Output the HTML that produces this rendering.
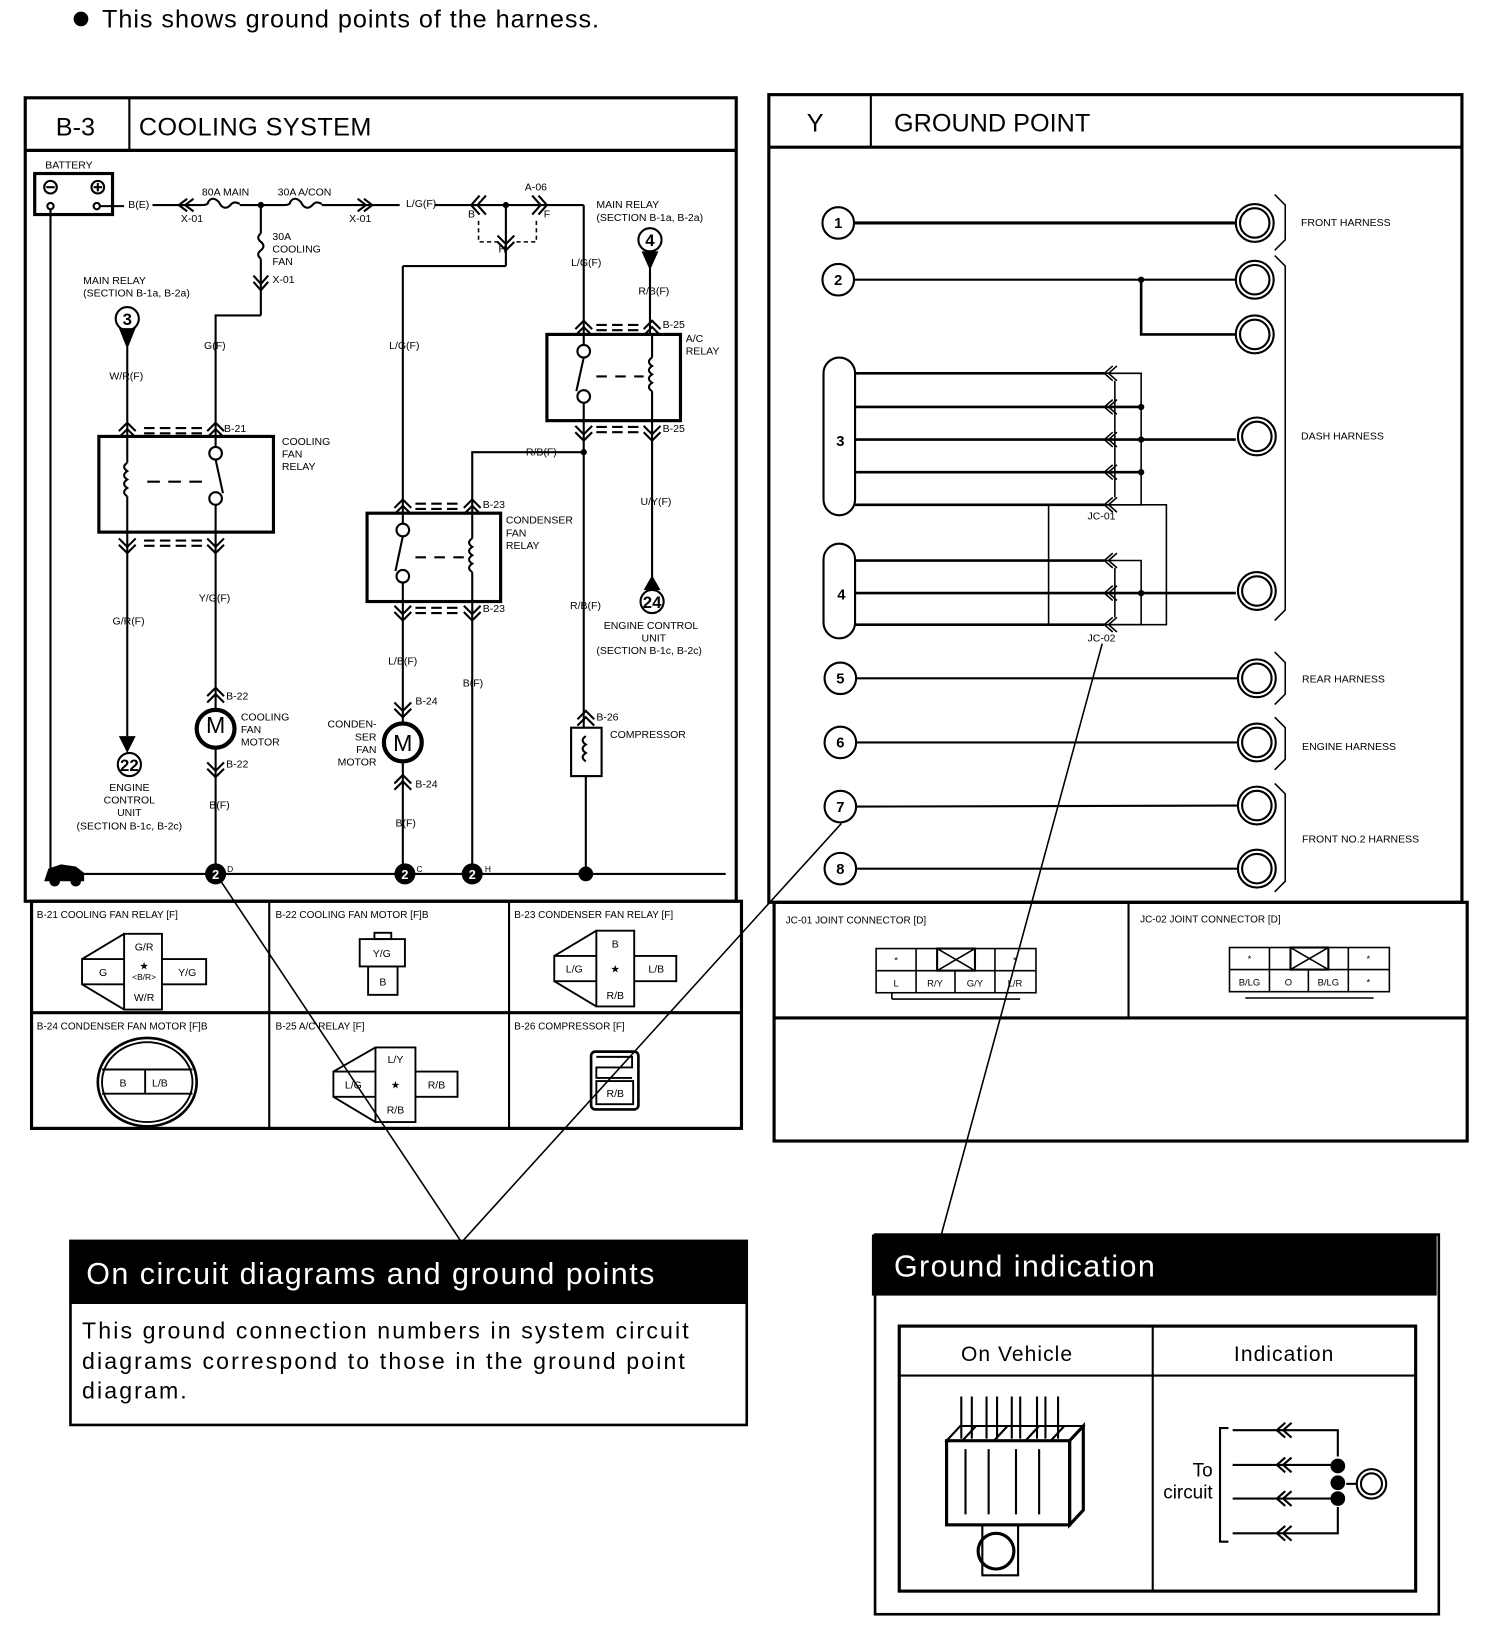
<!DOCTYPE html>
<html><head><meta charset="utf-8"><style>html,body{margin:0;padding:0;background:#fff}svg{display:block}</style></head>
<body>
<svg width="1504" height="1650" viewBox="0 0 1430 1569" preserveAspectRatio="none" xmlns="http://www.w3.org/2000/svg" font-family="Liberation Sans, Arial, sans-serif">
<rect width="1430" height="1569" fill="#fff"/>
<circle cx="77" cy="18" r="7" fill="#000"/>
<text x="97" y="26" font-size="24" letter-spacing="0.9">This shows ground points of the harness.</text>

<!-- LEFT PANEL -->
<g fill="none" stroke="#000">
<rect x="24" y="93" width="676" height="764" stroke-width="3"/>
<line x1="24" y1="143" x2="700" y2="143" stroke-width="3"/>
<line x1="123" y1="93" x2="123" y2="143" stroke-width="2"/>
<rect x="30" y="857" width="675" height="216" stroke-width="3"/>
<line x1="30" y1="963" x2="705" y2="963" stroke-width="3"/>
<line x1="256" y1="857" x2="256" y2="1073" stroke-width="2"/>
<line x1="484" y1="857" x2="484" y2="1073" stroke-width="2"/>
</g>
<text x="53" y="129" font-size="24">B-3</text>
<text x="132" y="129" font-size="24" letter-spacing="0.4">COOLING SYSTEM</text>

<g font-size="10" fill="#000">
<text x="43" y="160">BATTERY</text>
<text x="122" y="198">B(E)</text>
<text x="172" y="211">X-01</text>
<text x="192" y="186">80A MAIN</text>
<text x="264" y="186">30A A/CON</text>
<text x="332" y="211">X-01</text>
<text x="386" y="197">L/G(F)</text>
<text x="499" y="181">A-06</text>
<text x="445" y="207">B</text><text x="517" y="207">F</text><text x="474" y="240">H</text>
<text x="567" y="198">MAIN RELAY</text><text x="567" y="210">(SECTION B-1a, B-2a)</text>
<text x="543" y="253">L/G(F)</text>
<text x="607" y="280">R/B(F)</text>
<text x="259" y="228">30A</text><text x="259" y="240">COOLING</text><text x="259" y="252">FAN</text>
<text x="259" y="269">X-01</text>
<text x="79" y="270">MAIN RELAY</text><text x="79" y="282">(SECTION B-1a, B-2a)</text>
<text x="194" y="332">G(F)</text>
<text x="370" y="332">L/G(F)</text>
<text x="104" y="361">W/R(F)</text>
<text x="213" y="411">B-21</text>
<text x="268" y="423">COOLING</text><text x="268" y="435">FAN</text><text x="268" y="447">RELAY</text>
<text x="630" y="312">B-25</text><text x="630" y="411">B-25</text>
<text x="652" y="325">A/C</text><text x="652" y="337">RELAY</text>
<text x="500" y="433">R/B(F)</text>
<text x="609" y="480">U/Y(F)</text>
<text x="459" y="483">B-23</text><text x="459" y="582">B-23</text>
<text x="481" y="498">CONDENSER</text><text x="481" y="510">FAN</text><text x="481" y="522">RELAY</text>
<text x="189" y="572">Y/G(F)</text>
<text x="107" y="594">G/R(F)</text>
<text x="542" y="579">R/B(F)</text>
<text x="574" y="598">ENGINE CONTROL</text><text x="610" y="610">UNIT</text><text x="567" y="622">(SECTION B-1c, B-2c)</text>
<text x="369" y="632">L/B(F)</text>
<text x="440" y="653">B(F)</text>
<text x="215" y="665">B-22</text><text x="215" y="730">B-22</text>
<text x="229" y="685">COOLING</text><text x="229" y="697">FAN</text><text x="229" y="709">MOTOR</text>
<text x="395" y="670">B-24</text><text x="395" y="749">B-24</text>
<text x="358" y="692" text-anchor="end">CONDEN-</text><text x="358" y="704" text-anchor="end">SER</text><text x="358" y="716" text-anchor="end">FAN</text><text x="358" y="728" text-anchor="end">MOTOR</text>
<text x="567" y="685">B-26</text>
<text x="580" y="702">COMPRESSOR</text>
<text x="123" y="752" text-anchor="middle">ENGINE</text><text x="123" y="764" text-anchor="middle">CONTROL</text><text x="123" y="776" text-anchor="middle">UNIT</text><text x="123" y="789" text-anchor="middle">(SECTION B-1c, B-2c)</text>
<text x="199" y="769">B(F)</text>
<text x="376" y="786">B(F)</text>
<text x="216" y="829" font-size="8">D</text><text x="396" y="829" font-size="8">C</text><text x="461" y="829" font-size="8">H</text>
</g>

<g fill="none" stroke="#000" stroke-width="2">
<rect x="33" y="165" width="74" height="39" stroke-width="3"/>
<circle cx="48" cy="178" r="6"/><line x1="44" y1="178" x2="52" y2="178"/>
<circle cx="93" cy="178" r="6"/><line x1="89" y1="178" x2="97" y2="178"/><line x1="93" y1="174" x2="93" y2="182"/>
<circle cx="48" cy="196" r="3"/><circle cx="92" cy="196" r="3"/>
<line x1="48" y1="199" x2="48" y2="831"/>
<line x1="95" y1="196" x2="118" y2="196"/>
<line x1="145" y1="195" x2="192" y2="195"/>
<path d="M178 189 l-8 6 l8 6 M184 189 l-8 6 l8 6"/>
<path d="M192 195 q6 0 6 -3 q4 -6 10 0 q5 10 12 2 q3 -3 8 0 M228 195 L270 195"/>
<path d="M270 195 q6 0 6 -3 q4 -6 10 0 q5 10 12 2 q3 -3 8 0 M306 195 L380 195"/>
<path d="M340 189 l8 6 l-8 6 M346 189 l8 6 l-8 6"/>
<line x1="413" y1="195" x2="555" y2="195"/>
<path d="M456 186 l-8 9 l8 9 M462 186 l-8 9 l8 9 M506 186 l8 9 l-8 9 M512 186 l8 9 l-8 9"/>
<line x1="481" y1="195" x2="481" y2="253"/>
<path d="M455 210 v20 h20 M510 210 v20 h-20" stroke-dasharray="4 3" stroke-width="1.5"/>
<path d="M473 224 l8 8 l8 -8 M473 230 l8 8 l8 -8"/>
<line x1="481" y1="253" x2="383" y2="253"/>
<line x1="383" y1="253" x2="383" y2="488"/>
<line x1="555" y1="195" x2="555" y2="318"/>
<line x1="248" y1="195" x2="248" y2="222"/>
<path d="M248 222 q-5 4 0 8 q5 4 0 8 q-5 4 0 8"/>
<line x1="248" y1="246" x2="248" y2="300"/>
<path d="M241 262 l7 8 l7 -8 M241 268 l7 8 l7 -8"/>
<polyline points="248,300 205,300 205,415"/>
<circle cx="121" cy="303" r="11"/>
<line x1="121" y1="330" x2="121" y2="415"/>
<rect x="94" y="415" width="166" height="91" stroke-width="3"/>
<path d="M113 410 l8 -8 l8 8 M113 416 l8 -8 l8 8 M197 410 l8 -8 l8 8 M197 416 l8 -8 l8 8"/>
<path d="M137 407 h56 M137 412 h56 M137 514 h56 M137 519 h56" stroke-dasharray="10 5" stroke-width="2"/>
<path d="M113 512 l8 8 l8 -8 M113 518 l8 8 l8 -8 M197 512 l8 8 l8 -8 M197 518 l8 8 l8 -8"/>
<line x1="121" y1="415" x2="121" y2="440"/><path d="M121 440 q-6 4 0 8 q-6 4 0 8 q-6 4 0 8 q-6 4 0 8"/><line x1="121" y1="472" x2="121" y2="506"/>
<line x1="205" y1="415" x2="205" y2="425"/><circle cx="205" cy="431" r="6"/><line x1="205" y1="437" x2="212" y2="469"/><circle cx="205" cy="474" r="6"/><line x1="205" y1="480" x2="205" y2="506"/>
<line x1="140" y1="458" x2="200" y2="458" stroke-dasharray="12 8"/>
<line x1="121" y1="506" x2="121" y2="700"/>
<line x1="205" y1="506" x2="205" y2="675"/>
<circle cx="205" cy="693" r="18" stroke-width="4"/>
<line x1="205" y1="711" x2="205" y2="831"/>
<path d="M197 662 l8 -8 l8 8 M197 668 l8 -8 l8 8 M197 725 l8 8 l8 -8 M197 731 l8 8 l8 -8"/>
<circle cx="123" cy="727" r="11"/>
<rect x="349" y="488" width="127" height="84" stroke-width="3"/>
<path d="M375 483 l8 -8 l8 8 M375 489 l8 -8 l8 8 M441 483 l8 -8 l8 8 M441 489 l8 -8 l8 8"/>
<path d="M395 479 h42 M395 484 h42 M395 578 h42 M395 583 h42" stroke-dasharray="10 5"/>
<path d="M375 576 l8 8 l8 -8 M375 582 l8 8 l8 -8 M441 576 l8 8 l8 -8 M441 582 l8 8 l8 -8"/>
<line x1="383" y1="488" x2="383" y2="498"/><circle cx="383" cy="504" r="6"/><line x1="383" y1="510" x2="376" y2="543"/><circle cx="383" cy="548" r="6"/><line x1="383" y1="554" x2="383" y2="572"/>
<line x1="449" y1="488" x2="449" y2="512"/><path d="M449 512 q-6 4 0 8 q-6 4 0 8 q-6 4 0 8 q-6 4 0 8"/><line x1="449" y1="544" x2="449" y2="572"/>
<line x1="395" y1="530" x2="445" y2="530" stroke-dasharray="10 8"/>
<line x1="383" y1="572" x2="383" y2="688"/>
<circle cx="383" cy="706" r="18" stroke-width="4"/>
<line x1="383" y1="724" x2="383" y2="831"/>
<path d="M375 668 l8 8 l8 -8 M375 674 l8 8 l8 -8 M375 745 l8 -8 l8 8 M375 751 l8 -8 l8 8"/>
<polyline points="555,430 449,430 449,488"/>
<line x1="449" y1="572" x2="449" y2="831"/>
<rect x="520" y="318" width="127" height="82" stroke-width="3"/>
<path d="M547 313 l8 -8 l8 8 M547 319 l8 -8 l8 8 M612 313 l8 -8 l8 8 M612 319 l8 -8 l8 8"/>
<path d="M567 309 h42 M567 314 h42 M567 406 h42 M567 411 h42" stroke-dasharray="10 5"/>
<path d="M547 405 l8 8 l8 -8 M547 411 l8 8 l8 -8 M612 405 l8 8 l8 -8 M612 411 l8 8 l8 -8"/>
<line x1="555" y1="318" x2="555" y2="328"/><circle cx="555" cy="334" r="6"/><line x1="555" y1="340" x2="548" y2="372"/><circle cx="555" cy="377" r="6"/><line x1="555" y1="383" x2="555" y2="400"/>
<line x1="620" y1="318" x2="620" y2="340"/><path d="M620 340 q-6 4 0 8 q-6 4 0 8 q-6 4 0 8 q-6 4 0 8"/><line x1="620" y1="372" x2="620" y2="400"/>
<line x1="567" y1="358" x2="612" y2="358" stroke-dasharray="10 8"/>
<circle cx="618" cy="228" r="11"/>
<line x1="618" y1="250" x2="618" y2="318"/>
<line x1="555" y1="400" x2="555" y2="692"/>
<line x1="620" y1="400" x2="620" y2="550"/>
<circle cx="620" cy="572" r="11"/>
<rect x="543" y="692" width="29" height="46"/>
<path d="M557 700 q-6 4 0 8 q-6 4 0 8 q-6 4 0 8"/>
<path d="M549 684 l8 -8 l8 8 M549 690 l8 -8 l8 8"/>
<line x1="557" y1="738" x2="557" y2="831"/>
<line x1="48" y1="831" x2="690" y2="831"/>
</g>
<g fill="#000">
<circle cx="248" cy="195" r="3"/><circle cx="481" cy="195" r="3"/><circle cx="555" cy="430" r="3"/>
<path d="M113 312 L129 312 L121 332 Z"/>
<path d="M610 239 L626 239 L618 257 Z"/>
<path d="M113 700 L129 700 L121 716 Z"/>
<path d="M612 561 L628 561 L620 547 Z"/>
<circle cx="205" cy="831" r="10"/><circle cx="385" cy="831" r="10"/><circle cx="449" cy="831" r="10"/><circle cx="557" cy="831" r="7"/>
<path d="M42 838 L46 826 L58 822 L72 824 L80 830 L80 838 Z"/><circle cx="52" cy="838" r="5"/><circle cx="72" cy="838" r="5"/>
</g>
<g font-size="16" font-weight="bold" text-anchor="middle" fill="#000">
<text x="121" y="309">3</text><text x="618" y="234">4</text><text x="123" y="733">22</text><text x="620" y="578">24</text>
<text x="205" y="697" font-size="22" font-weight="normal">M</text><text x="383" y="714" font-size="22" font-weight="normal">M</text>
</g>
<g font-size="12" font-weight="bold" text-anchor="middle" fill="#fff"><text x="205" y="836">2</text><text x="385" y="836">2</text><text x="449" y="836">2</text></g>

<g font-size="9.5" fill="#000">
<text x="35" y="873">B-21 COOLING FAN RELAY [F]</text>
<text x="262" y="873">B-22 COOLING FAN MOTOR [F]B</text>
<text x="489" y="873">B-23 CONDENSER FAN RELAY [F]</text>
<text x="35" y="979">B-24 CONDENSER FAN MOTOR [F]B</text>
<text x="262" y="979">B-25 A/C RELAY [F]</text>
<text x="489" y="979">B-26 COMPRESSOR [F]</text>
</g>
<g fill="none" stroke="#000" stroke-width="1.8">
<path d="M118 888 h36 v24 h42 v24 h-42 v24 h-36 v-24 h-40 v-24 h40 z M118 912 v24 M154 912 v24 M78 912 L118 888 M78 936 L118 960"/>
<rect x="342" y="893" width="43" height="26"/><rect x="350" y="919" width="28" height="27"/><rect x="356" y="887" width="16" height="6"/>
<path d="M567 885 h36 v24 h40 v24 h-40 v24 h-36 v-24 h-40 v-24 h40 z M567 909 v24 M603 909 v24 M527 909 L567 885 M527 933 L567 957"/>
<ellipse cx="140" cy="1029" rx="47" ry="42" stroke-width="2.5"/><ellipse cx="140" cy="1029" rx="43" ry="38"/>
<line x1="97" y1="1017" x2="183" y2="1017"/><line x1="97" y1="1040" x2="183" y2="1040"/><line x1="138" y1="1017" x2="138" y2="1040"/>
<path d="M357 996 h38 v23 h40 v24 h-40 v24 h-38 v-24 h-40 v-24 h40 z M357 1019 v24 M395 1019 v24 M317 1019 L357 996 M317 1043 L357 1067"/>
<rect x="562" y="1000" width="45" height="55" rx="4" stroke-width="2.5"/><path d="M567 1005 h34 v10 h-34 v10 h34" /><rect x="567" y="1028" width="35" height="22"/>
</g>
<g font-size="10" text-anchor="middle" fill="#000">
<text x="137" y="904">G/R</text><text x="98" y="928">G</text><text x="137" y="922">★</text><text x="137" y="932" font-size="8">&lt;B/R&gt;</text><text x="178" y="928">Y/G</text><text x="137" y="952">W/R</text>
<text x="363" y="910">Y/G</text><text x="364" y="937">B</text>
<text x="585" y="901">B</text><text x="546" y="925">L/G</text><text x="585" y="925">★</text><text x="624" y="925">L/B</text><text x="585" y="950">R/B</text>
<text x="117" y="1033">B</text><text x="152" y="1033">L/B</text>
<text x="376" y="1011">L/Y</text><text x="336" y="1035">L/G</text><text x="376" y="1035">★</text><text x="415" y="1035">R/B</text><text x="376" y="1059">R/B</text>
<text x="585" y="1043">R/B</text>
</g>

<!-- RIGHT PANEL -->
<g fill="none" stroke="#000">
<rect x="731" y="90" width="659" height="768" stroke-width="3"/>
<line x1="731" y1="140" x2="1390" y2="140" stroke-width="3"/>
<line x1="828" y1="90" x2="828" y2="140" stroke-width="2"/>
<rect x="736" y="858" width="659" height="227" stroke-width="3"/>
<line x1="736" y1="968" x2="1395" y2="968" stroke-width="3"/>
<line x1="1073" y1="858" x2="1073" y2="968" stroke-width="2"/>
</g>
<text x="767" y="125" font-size="24">Y</text>
<text x="850" y="125" font-size="24">GROUND POINT</text>

<g fill="none" stroke="#000" stroke-width="2">
<circle cx="797" cy="212" r="15"/><circle cx="797" cy="266" r="15"/>
<circle cx="799" cy="645" r="15"/><circle cx="799" cy="706" r="15"/><circle cx="799" cy="767" r="15"/><circle cx="799" cy="826" r="15"/>
<rect x="783" y="340" width="30" height="150" rx="15"/>
<rect x="783" y="517" width="30" height="90" rx="15"/>
<line x1="812" y1="212" x2="1175" y2="212" stroke-width="3"/>
<line x1="812" y1="266" x2="1175" y2="266"/>
<polyline points="1085,266 1085,318 1175,318" stroke-width="2.5"/>
<g stroke-width="2.5">
<line x1="813" y1="355" x2="1050" y2="355"/><line x1="813" y1="387" x2="1085" y2="387"/><line x1="813" y1="418" x2="1175" y2="418"/><line x1="813" y1="449" x2="1085" y2="449"/><line x1="813" y1="480" x2="1050" y2="480"/>
<line x1="813" y1="533" x2="1050" y2="533"/><line x1="813" y1="564" x2="1175" y2="564"/><line x1="813" y1="594" x2="1050" y2="594"/>
</g>
<polyline points="1050,355 1085,355 1085,480 1050,480" stroke-width="1.5"/>
<polyline points="1050,533 1085,533 1085,594 1050,594" stroke-width="1.5"/>
<path d="M1058 348 l-8 7 l8 7 M1062 348 l-8 7 l8 7 M1058 380 l-8 7 l8 7 M1062 380 l-8 7 l8 7 M1058 411 l-8 7 l8 7 M1062 411 l-8 7 l8 7 M1058 442 l-8 7 l8 7 M1062 442 l-8 7 l8 7 M1058 473 l-8 7 l8 7 M1062 473 l-8 7 l8 7 M1058 526 l-8 7 l8 7 M1062 526 l-8 7 l8 7 M1058 557 l-8 7 l8 7 M1062 557 l-8 7 l8 7 M1058 587 l-8 7 l8 7 M1062 587 l-8 7 l8 7" stroke-width="1.5"/>
<line x1="1060" y1="362" x2="1060" y2="473" stroke-width="1.5"/><line x1="1060" y1="540" x2="1060" y2="587" stroke-width="1.5"/>
<rect x="997" y="480" width="112" height="114" stroke-width="1.5"/>
<line x1="814" y1="645" x2="1177" y2="645"/><line x1="814" y1="706" x2="1177" y2="706"/><line x1="814" y1="767" x2="1177" y2="766"/><line x1="814" y1="826" x2="1177" y2="826"/>
<g stroke-width="2"><circle cx="1193" cy="212" r="18"/><circle cx="1193" cy="212" r="14"/>
<circle cx="1193" cy="266" r="18"/><circle cx="1193" cy="266" r="14"/>
<circle cx="1193" cy="318" r="18"/><circle cx="1193" cy="318" r="14"/>
<circle cx="1195" cy="415" r="18"/><circle cx="1195" cy="415" r="14"/>
<circle cx="1195" cy="562" r="18"/><circle cx="1195" cy="562" r="14"/>
<circle cx="1195" cy="645" r="18"/><circle cx="1195" cy="645" r="14"/>
<circle cx="1195" cy="706" r="18"/><circle cx="1195" cy="706" r="14"/>
<circle cx="1195" cy="766" r="18"/><circle cx="1195" cy="766" r="14"/>
<circle cx="1195" cy="826" r="18"/><circle cx="1195" cy="826" r="14"/></g>
<polyline points="1212,185 1222,195 1222,228 1212,238" stroke-width="1.5"/>
<polyline points="1212,243 1222,253 1222,580 1212,590" stroke-width="1.5"/>
<polyline points="1212,620 1222,630 1222,660 1212,670" stroke-width="1.5"/>
<polyline points="1212,682 1222,692 1222,722 1212,732" stroke-width="1.5"/>
<polyline points="1212,745 1222,755 1222,838 1212,848" stroke-width="1.5"/>
</g>
<g fill="#000"><circle cx="1085" cy="266" r="3"/><circle cx="1085" cy="387" r="3"/><circle cx="1085" cy="418" r="3"/><circle cx="1085" cy="449" r="3"/><circle cx="1085" cy="564" r="3"/></g>
<g font-size="14" font-weight="bold" text-anchor="middle" fill="#000">
<text x="797" y="217">1</text><text x="797" y="271">2</text><text x="799" y="424">3</text><text x="800" y="570">4</text><text x="799" y="650">5</text><text x="799" y="711">6</text><text x="799" y="772">7</text><text x="799" y="831">8</text>
</g>
<g font-size="10" fill="#000">
<text x="1237" y="215">FRONT HARNESS</text><text x="1237" y="418">DASH HARNESS</text><text x="1238" y="649">REAR HARNESS</text><text x="1238" y="713">ENGINE HARNESS</text><text x="1238" y="801">FRONT NO.2 HARNESS</text>
<text x="1034" y="494">JC-01</text><text x="1034" y="610">JC-02</text>
<text x="747" y="878" font-size="9.5">JC-01 JOINT CONNECTOR [D]</text><text x="1084" y="877" font-size="9.5">JC-02 JOINT CONNECTOR [D]</text>
</g>
<g fill="none" stroke="#000" stroke-width="1.5">
<rect x="833" y="902" width="152" height="42"/><line x1="833" y1="923" x2="985" y2="923"/>
<line x1="871" y1="902" x2="871" y2="944"/><line x1="908" y1="923" x2="908" y2="944"/><line x1="946" y1="902" x2="946" y2="944"/>
<rect x="891" y="902" width="36" height="21" stroke-width="2"/><path d="M891 902 L927 923 M927 902 L891 923"/>
<line x1="848" y1="944" x2="848" y2="950"/><line x1="848" y1="950" x2="970" y2="950"/>
<rect x="1169" y="901" width="152" height="42"/><line x1="1169" y1="922" x2="1321" y2="922"/>
<line x1="1207" y1="901" x2="1207" y2="943"/><line x1="1244" y1="922" x2="1244" y2="943"/><line x1="1282" y1="901" x2="1282" y2="943"/>
<rect x="1227" y="901" width="36" height="21" stroke-width="2"/><path d="M1227 901 L1263 922 M1263 901 L1227 922"/>
<line x1="1184" y1="949" x2="1306" y2="949"/>
</g>
<g font-size="9" text-anchor="middle" fill="#000">
<text x="852" y="916">*</text><text x="965" y="916">*</text><text x="852" y="938">L</text><text x="889" y="938">R/Y</text><text x="927" y="938">G/Y</text><text x="965" y="938">L/R</text>
<text x="1188" y="915">*</text><text x="1301" y="915">*</text><text x="1188" y="937">B/LG</text><text x="1225" y="937">O</text><text x="1263" y="937">B/LG</text><text x="1301" y="937">*</text>
</g>

<g stroke="#000" stroke-width="1.5" fill="none">
<line x1="210" y1="838" x2="438" y2="1180"/>
<line x1="800" y1="783" x2="440" y2="1180"/>
<line x1="1048" y1="612" x2="895" y2="1174"/>
</g>

<rect x="66" y="1180" width="644" height="60" fill="#000"/>
<rect x="67" y="1180" width="643" height="175" fill="none" stroke="#000" stroke-width="2.5"/>
<text x="82" y="1221" font-size="29" fill="#fff" letter-spacing="1.4">On circuit diagrams and ground points</text>
<g font-size="22" letter-spacing="2" fill="#000">
<text x="78" y="1273">This ground connection numbers in system circuit</text>
<text x="78" y="1302">diagrams correspond to those in the ground point</text>
<text x="78" y="1330">diagram.</text>
</g>

<rect x="829" y="1174" width="537" height="58" fill="#000"/>
<rect x="832" y="1174" width="536" height="361" fill="none" stroke="#000" stroke-width="2.5"/>
<text x="850" y="1214" font-size="29" fill="#fff" letter-spacing="1.3">Ground indication</text>
<g fill="none" stroke="#000">
<rect x="855" y="1261" width="491" height="252" stroke-width="3"/>
<line x1="855" y1="1308" x2="1346" y2="1308" stroke-width="2"/>
<line x1="1096" y1="1261" x2="1096" y2="1513" stroke-width="2"/>
</g>
<text x="967" y="1294" font-size="20" text-anchor="middle" letter-spacing="1">On Vehicle</text>
<text x="1221" y="1294" font-size="20" text-anchor="middle" letter-spacing="1">Indication</text>
<g fill="none" stroke="#000" stroke-width="2">
<path d="M914 1328 v40 M924 1328 v40 M938 1328 v40 M948 1328 v40 M962 1328 v40 M970 1328 v40 M986 1328 v40 M994 1328 v40 M1006 1328 v40"/>
<path d="M900 1370 L913 1356 L1030 1356 L1017 1370 Z"/>
<rect x="900" y="1370" width="117" height="80" stroke-width="3"/>
<path d="M1017 1370 L1030 1356 L1030 1436 L1017 1450 Z" stroke-width="3"/>
<path d="M928 1356 l-13 14 M958 1356 l-13 14 M988 1356 l-13 14 M1012 1356 l-13 14"/>
<path d="M918 1378 v62 M940 1378 v62 M966 1378 v62 M988 1378 v62"/>
<path d="M934 1450 v48 h34 v-48"/>
<circle cx="947" cy="1475" r="17" stroke-width="3"/>
<path d="M1168 1358 h-8 v108 h8"/>
<path d="M1172 1360 h100 v25 M1172 1393 h100 M1172 1425 h100 M1172 1458 h100 v-25"/>
<path d="M1222 1353 l-8 7 l8 7 M1228 1353 l-8 7 l8 7 M1222 1386 l-8 7 l8 7 M1228 1386 l-8 7 l8 7 M1222 1418 l-8 7 l8 7 M1228 1418 l-8 7 l8 7 M1222 1451 l-8 7 l8 7 M1228 1451 l-8 7 l8 7"/>
<line x1="1280" y1="1411" x2="1290" y2="1411"/>
<circle cx="1304" cy="1411" r="14"/><circle cx="1304" cy="1411" r="10"/>
</g>
<g fill="#000"><circle cx="1272" cy="1394" r="7"/><circle cx="1272" cy="1410" r="7"/><circle cx="1272" cy="1425" r="7"/></g>
<text x="1153" y="1404" font-size="18" text-anchor="end">To</text>
<text x="1153" y="1425" font-size="18" text-anchor="end">circuit</text>
</svg>
</body></html>
